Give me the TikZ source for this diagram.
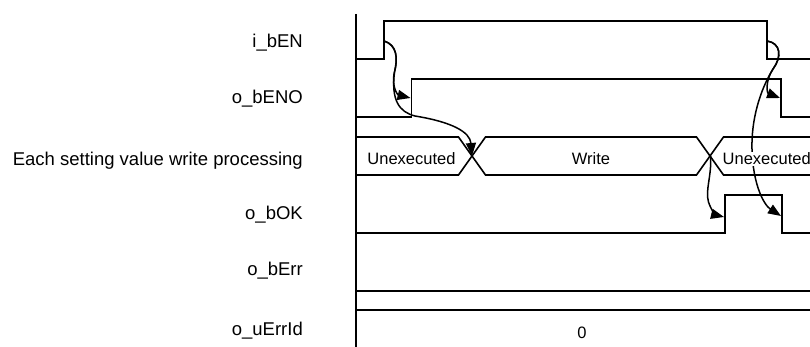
\documentclass[tikz,border=0pt]{standalone}
\usepackage{fontspec}
\setmainfont{Liberation Sans}
\usetikzlibrary{arrows.meta}
\begin{document}
\begin{tikzpicture}[x=1pt,y=-1pt,
  sig/.style={line width=1.6pt,line join=miter},
  lbl/.style={anchor=base east,inner sep=0pt,font=\fontsize{18.5}{22}\selectfont},
  bustxt/.style={anchor=base,inner sep=1pt,font=\fontsize{16.5}{20}\selectfont},
  arr/.style={line width=1.5pt,-{Triangle[length=13pt,width=10pt]}}]
\useasboundingbox (0,0) rectangle (810,347);
% labels
\node[lbl] (l1) at (303,47.5) {i\_bEN};
\node[lbl] (l2) at (303,103.3) {o\_bENO};
\node[lbl] (l3) at (303,165.7) {Each setting value write processing};
\node[lbl] (l4) at (303,219.3) {o\_bOK};
\node[lbl] (l5) at (303,275.3) {o\_bErr};
\node[lbl] (l6) at (303,335) {o\_uErrId};
% axis
\draw[sig] (356,14) -- (356,347);
% i_bEN
\draw[sig] (356,59) -- (384,59) -- (384,21) -- (767,21) -- (767,59) -- (810,59);
% o_bENO
\draw[sig] (356,117) -- (411.5,117) -- (411.5,79) -- (781,79) -- (781,117) -- (810,117);
% processing bus
\draw[sig] (356,137) -- (458.5,137) -- (485.5,175) -- (696.5,175) -- (723.5,137) -- (810,137);
\draw[sig] (356,175) -- (458.5,175) -- (485.5,137) -- (696.5,137) -- (723.5,175) -- (810,175);
% o_bOK
\draw[sig] (356,233) -- (725,233) -- (725,195) -- (782,195) -- (782,233) -- (810,233);
% o_bErr
\draw[sig] (356,291) -- (810,291);
% o_uErrId
\draw[sig] (356,310) -- (810,310);
% edge points
\coordinate (enR) at (384,41);
\coordinate (enoR) at (410.5,98);
\coordinate (x1) at (472,156);
\coordinate (x2) at (710.5,156);
\coordinate (enF) at (767,41);
\coordinate (enoF) at (780,98);
\coordinate (okR) at (724,217);
\coordinate (okF) at (781,216);
% arrows
\draw[arr] (enR) .. controls (397,45) and (398,58) .. (394.5,72) .. controls (391,87) and (398,95) .. (enoR);
\draw[arr] (enR) .. controls (397,45) and (398,58) .. (394.5,72) .. controls (391,100) and (399,112) .. (415,116) .. controls (452,122) and (470,132) .. (x1);
\draw[arr] (enF) .. controls (781,43) and (782,57) .. (773,69) .. controls (765,81) and (767,93) .. (enoF);
\draw[arr] (enF) .. controls (781,43) and (782,57) .. (773,69) .. controls (760,90) and (751,120) .. (752,150) .. controls (753,185) and (764,205) .. (okF);
\draw[arr] (x2) .. controls (712,175) and (705,190) .. (708.5,202) .. controls (711,210) and (716,215) .. (okR);
% bus texts
\node[bustxt] (u1) at (411.5,165) {Unexecuted};
\node[bustxt] (w) at (591,165) {Write};
\node[bustxt,anchor=base west,fill=white,inner sep=1pt] (u2) at (721.5,165) {Unexecuted};
\node[bustxt] (z) at (582,338.3) {0};
\end{tikzpicture}
\end{document}
